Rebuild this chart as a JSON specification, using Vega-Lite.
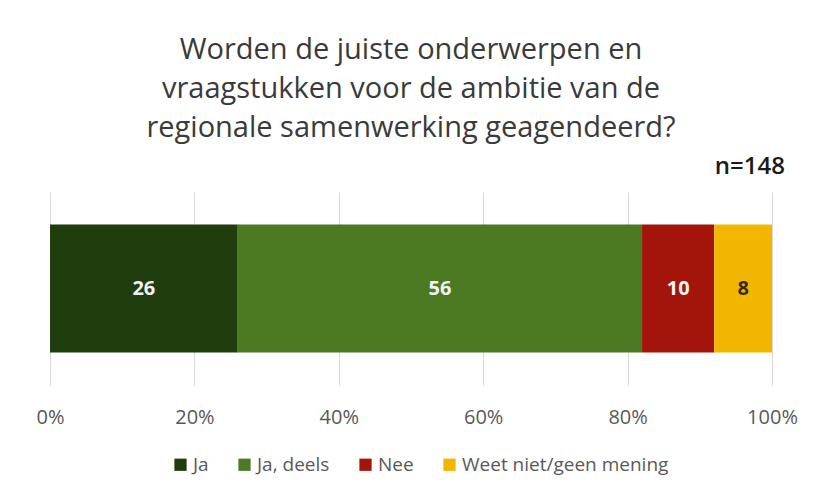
{
  "$schema": "https://vega.github.io/schema/vega-lite/v6.json",
  "width": 722,
  "height": 193,
  "autosize": {"type": "none"},
  "padding": {"left": 50, "top": 192, "right": 45, "bottom": 109},
  "background": "#ffffff",
  "config": {
    "font": "Open Sans",
    "view": {"stroke": null}
  },
  "title": {
    "text": ["Worden de juiste onderwerpen en", "vraagstukken voor de ambitie van de", "regionale samenwerking geagendeerd?"],
    "fontSize": 29,
    "fontWeight": "normal",
    "color": "#3a3a3a",
    "lineHeight": 39,
    "anchor": "middle",
    "frame": "group",
    "offset": 12
  },
  "datasets": {
    "answers": [
      {"question": "Q", "answer": "Ja", "percent": 26, "order": 1},
      {"question": "Q", "answer": "Ja, deels", "percent": 56, "order": 2},
      {"question": "Q", "answer": "Nee", "percent": 10, "order": 3},
      {"question": "Q", "answer": "Weet niet/geen mening", "percent": 8, "order": 4}
    ],
    "note": [{"label": "n=148", "pos": 1}]
  },
  "layer": [
    {
      "data": {"name": "answers"},
      "transform": [
        {"stack": "percent", "groupby": ["question"], "sort": [{"field": "order", "order": "ascending"}], "offset": "normalize", "as": ["p0", "p1"]}
      ],
      "mark": {"type": "bar"},
      "encoding": {
        "y": {"field": "question", "type": "nominal", "axis": null, "scale": {"paddingOuter": 0.254, "paddingInner": 0}},
        "x": {
          "field": "p0", "type": "quantitative",
          "scale": {"domain": [0, 1], "nice": false},
          "axis": {
            "format": "%", "values": [0, 0.2, 0.4, 0.6, 0.8, 1],
            "grid": true, "gridColor": "#d9d9d9", "gridWidth": 1,
            "domain": false, "ticks": false, "labelFlush": false,
            "labelFontSize": 20, "labelColor": "#595959", "labelPadding": 22,
            "labelFont": "Open Sans", "title": null
          }
        },
        "x2": {"field": "p1"},
        "color": {
          "field": "answer", "type": "nominal",
          "scale": {
            "domain": ["Ja", "Ja, deels", "Nee", "Weet niet/geen mening"],
            "range": ["#1f3d0d", "#4b7a23", "#a3140b", "#f2b600"]
          },
          "legend": {
            "orient": "none", "direction": "horizontal",
            "legendX": 121, "legendY": 263,
            "title": null,
            "symbolType": "square", "symbolSize": 150, "symbolStrokeWidth": 0,
            "symbolOpacity": 1, "labelLimit": 400,
            "labelFontSize": 19, "labelColor": "#595959", "labelFont": "Open Sans",
            "labelOffset": 3, "columnPadding": 26
          }
        }
      }
    },
    {
      "data": {"name": "answers"},
      "transform": [
        {"stack": "percent", "groupby": ["question"], "sort": [{"field": "order", "order": "ascending"}], "offset": "normalize", "as": ["p0", "p1"]},
        {"calculate": "(datum.p0 + datum.p1) / 2", "as": "mid"}
      ],
      "mark": {"type": "text", "fontSize": 20, "fontWeight": "bold", "baseline": "middle", "align": "center"},
      "encoding": {
        "y": {"field": "question", "type": "nominal"},
        "x": {"field": "mid", "type": "quantitative"},
        "text": {"field": "percent", "type": "quantitative"},
        "color": {
          "condition": {"test": "datum.answer === 'Weet niet/geen mening'", "value": "#3a2a00"},
          "value": "#f2f2f2"
        }
      }
    },
    {
      "data": {"name": "note"},
      "mark": {"type": "text", "fontSize": 24, "fontWeight": 600, "color": "#1a1a1a", "align": "right", "baseline": "bottom", "dx": 13, "dy": -13},
      "encoding": {
        "x": {"field": "pos", "type": "quantitative"},
        "y": {"value": 0},
        "text": {"field": "label"}
      }
    }
  ]
}
